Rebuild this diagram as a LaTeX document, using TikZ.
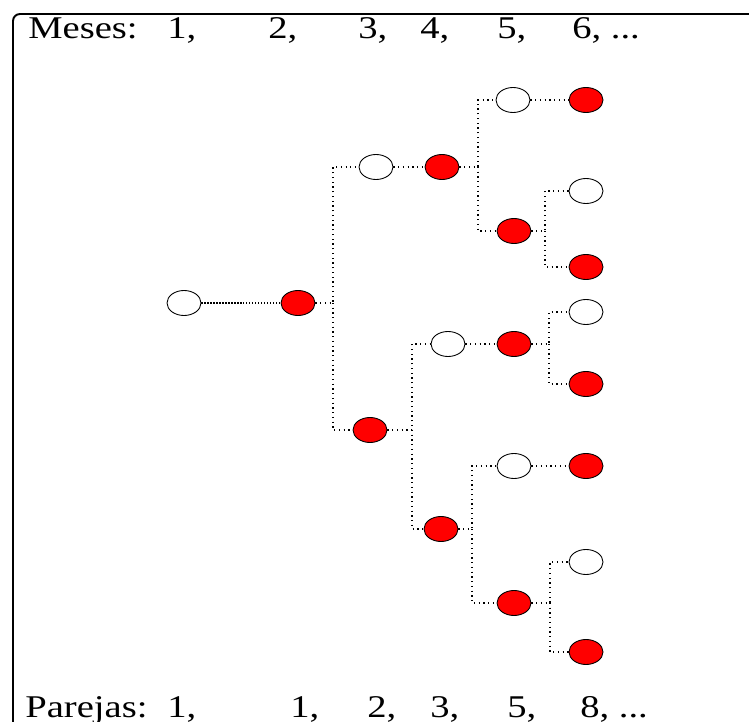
\documentclass[tikz,border=0pt]{standalone}
\usepackage{fontspec}
\setmainfont[FakeStretch=1.22]{Liberation Serif}
\usepackage{tikz}
\usetikzlibrary{shapes.geometric, positioning, calc}
\usepackage{xcolor}

\begin{document}
\begin{tikzpicture}[
  joven/.style={ellipse, draw=black, fill=white, line width=0.5pt,
                minimum width=0.68cm, minimum height=0.5cm, inner sep=0pt},
  adulta/.style={joven, fill=red},
  lnk/.style={draw=black, line width=0.7pt, dotted},
  lbl/.style={font=\fontsize{18}{21}\selectfont, inner sep=0pt, anchor=base west},
  marco/.style={draw=black, line width=1.1pt, rounded corners=0.14cm}
]

\useasboundingbox (0,0) rectangle (14.98,-14.44);
\clip (0,0) rectangle (14.98,-14.44);

% Frame
\draw[marco] (0.26,-0.28) rectangle (15.6,-15.2);

% Month and pair labels
\node[lbl] (mes) at (0.56,-0.78) {Meses:};
\node[lbl] (m1) at (3.34,-0.78) {1,};
\node[lbl] (m2) at (5.36,-0.78) {2,};
\node[lbl] (m3) at (7.16,-0.78) {3,};
\node[lbl] (m4) at (8.40,-0.78) {4,};
\node[lbl] (m5) at (9.94,-0.78) {5,};
\node[lbl] (m6) at (11.44,-0.78) {6, ...};

\node[lbl] (par) at (0.50,-14.34) {Parejas:};
\node[lbl] (p1) at (3.34,-14.34) {1,};
\node[lbl] (p2) at (5.80,-14.34) {1,};
\node[lbl] (p3) at (7.34,-14.34) {2,};
\node[lbl] (p4) at (8.60,-14.34) {3,};
\node[lbl] (p5) at (10.14,-14.34) {5,};
\node[lbl] (p6) at (11.60,-14.34) {8, ...};

% Rabbit pairs
\node[joven]  (a) at (3.68,-6.06) {};
\node[adulta] (b) at (5.96,-6.06) {};

\node[joven]  (c) at (7.52,-3.34) {};
\node[adulta] (d) at (8.84,-3.34) {};
\node[adulta] (e) at (7.40,-8.60) {};

\node[joven]  (f) at (10.26,-2.00) {};
\node[adulta] (g) at (11.72,-2.00) {};
\node[adulta] (h) at (10.28,-4.62) {};
\node[joven]  (i) at (11.72,-3.82) {};
\node[adulta] (j) at (11.72,-5.34) {};

\node[joven]  (k) at (8.96,-6.88) {};
\node[adulta] (l) at (10.28,-6.88) {};
\node[joven]  (m) at (11.72,-6.24) {};
\node[adulta] (n) at (11.72,-7.68) {};

\node[adulta] (q) at (8.82,-10.58) {};
\node[joven]  (r) at (10.28,-9.32) {};
\node[adulta] (s) at (11.72,-9.32) {};
\node[adulta] (t) at (10.28,-12.06) {};
\node[joven]  (u) at (11.72,-11.24) {};
\node[adulta] (v) at (11.72,-13.04) {};

% Branch points
\coordinate (k1) at (6.66,-6.06);
\coordinate (k2) at (9.56,-3.34);
\coordinate (k3) at (10.90,-4.62);
\coordinate (k4) at (8.24,-8.60);
\coordinate (k5) at (10.98,-6.88);
\coordinate (k6) at (9.44,-10.58);
\coordinate (k7) at (11.00,-12.06);

% Links
\draw[lnk, densely dotted] (a) -- (b);
\draw[lnk] (b.east) -- (k1) |- (c.west);
\draw[lnk] (k1) |- (e.west);
\draw[lnk] (c) -- (d);
\draw[lnk] (d.east) -- (k2) |- (f.west);
\draw[lnk] (k2) |- (h.west);
\draw[lnk] (f) -- (g);
\draw[lnk] (h.east) -- (k3) |- (i.west);
\draw[lnk] (k3) |- (j.west);
\draw[lnk] (e.east) -- (k4) |- (k.west);
\draw[lnk] (k4) |- (q.west);
\draw[lnk] (k) -- (l);
\draw[lnk] (l.east) -- (k5) |- (m.west);
\draw[lnk] (k5) |- (n.west);
\draw[lnk] (q.east) -- (k6) |- (r.west);
\draw[lnk] (k6) |- (t.west);
\draw[lnk] (r) -- (s);
\draw[lnk] (t.east) -- (k7) |- (u.west);
\draw[lnk] (k7) |- (v.west);

\end{tikzpicture}
\end{document}
